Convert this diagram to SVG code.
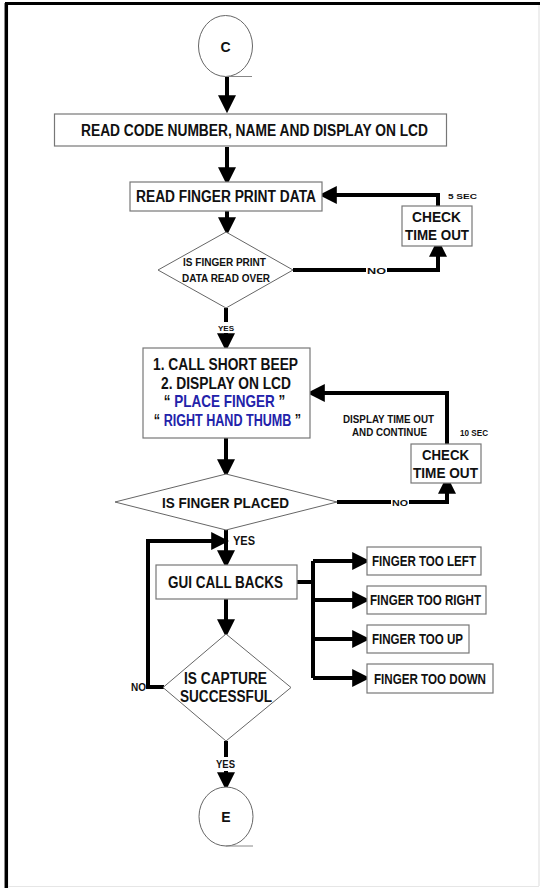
<svg xmlns="http://www.w3.org/2000/svg" width="541" height="888" viewBox="0 0 541 888">
<style>
.box{fill:#fff;stroke:#777;stroke-width:1.2}
.shape{fill:#fff;stroke:#666;stroke-width:1}
.c{stroke:#000;stroke-width:4;fill:none}
.t{font-family:"Liberation Sans",Arial,sans-serif;font-weight:bold;fill:#111;text-anchor:middle;dominant-baseline:central}
.blue{fill:#2222aa}
</style>
<defs>
<marker id="ah" markerWidth="4.5" markerHeight="4.5" refX="3.2" refY="2.25" orient="auto" markerUnits="strokeWidth">
<path d="M0,0 L4.5,2.25 L0,4.5 Z" fill="#000"/>
</marker>
</defs>
<rect x="0" y="0" width="541" height="888" fill="#fff"/>
<g id="frame">
<line x1="6.3" y1="3" x2="6.3" y2="888" stroke="#000" stroke-width="3.5"/>
<line x1="5" y1="3.5" x2="540" y2="3.5" stroke="#000" stroke-width="3.2"/>
<line x1="539" y1="5" x2="539" y2="886" stroke="#ddd" stroke-width="1"/>
<line x1="8" y1="886.5" x2="539" y2="886.5" stroke="#e6e6e6" stroke-width="1"/>
</g>
<g id="connectors">
<path class="c" d="M227,77 V108" marker-end="url(#ah)"/>
<path class="c" d="M227,147 V180" marker-end="url(#ah)"/>
<path class="c" d="M227,211 V230" marker-end="url(#ah)"/>
<path class="c" d="M293,270 H438 V244" marker-end="url(#ah)"/>
<path class="c" d="M438,206 V195 H324" marker-end="url(#ah)"/>
<path class="c" d="M226,308 V322"/>
<path class="c" d="M226,333 V346" marker-end="url(#ah)"/>
<path class="c" d="M337,502 H447 V481" marker-end="url(#ah)"/>
<path class="c" d="M447,444 V393 H312" marker-end="url(#ah)"/>
<path class="c" d="M226,438 V472" marker-end="url(#ah)"/>
<path class="c" d="M226,530 V563" marker-end="url(#ah)"/>
<path class="c" d="M164,687 H148 V541 H224" marker-end="url(#ah)"/>
<path class="c" d="M226,599 V632" marker-end="url(#ah)"/>
<path class="c" d="M297,582 H313"/>
<path class="c" d="M313,561 V678"/>
<path class="c" d="M313,561 H365" marker-end="url(#ah)"/>
<path class="c" d="M313,600 H365" marker-end="url(#ah)"/>
<path class="c" d="M313,639 H365" marker-end="url(#ah)"/>
<path class="c" d="M313,678 H365" marker-end="url(#ah)"/>
<path class="c" d="M226,741 V757"/>
<path class="c" d="M226,771 V785" marker-end="url(#ah)"/>
<rect x="366" y="264" width="21" height="12" fill="#fff"/>
<text class="t" x="376.5" y="270.5" font-size="9.5" textLength="19" lengthAdjust="spacingAndGlyphs">NO</text>
<rect x="391" y="496" width="18" height="12" fill="#fff"/>
<text class="t" x="400" y="502.5" font-size="9.5" textLength="16" lengthAdjust="spacingAndGlyphs">NO</text>
<text class="t" x="138.5" y="687.5" font-size="10" textLength="15" lengthAdjust="spacingAndGlyphs">NO</text>
<text class="t" x="226" y="328" font-size="7" textLength="16" lengthAdjust="spacingAndGlyphs">YES</text>
<text class="t" x="244" y="541" font-size="12.5" textLength="22" lengthAdjust="spacingAndGlyphs">YES</text>
<text class="t" x="225.5" y="764" font-size="10" textLength="19" lengthAdjust="spacingAndGlyphs">YES</text>
<text class="t" x="462.5" y="196" font-size="8" textLength="29" lengthAdjust="spacingAndGlyphs">5 SEC</text>
<text class="t" x="474" y="432" font-size="9.5" textLength="28" lengthAdjust="spacingAndGlyphs">10 SEC</text>
<text class="t" x="388.5" y="419" font-size="10" textLength="91" lengthAdjust="spacingAndGlyphs">DISPLAY TIME OUT</text>
<text class="t" x="389.5" y="432" font-size="10" textLength="75" lengthAdjust="spacingAndGlyphs">AND CONTINUE</text>
</g>
<g id="start">
<ellipse class="shape" cx="225.5" cy="46" rx="27" ry="30.5"/>
<line x1="226" y1="76.5" x2="252" y2="76.5" stroke="#888" stroke-width="1"/>
<text class="t" x="225.5" y="46.5" font-size="14">C</text>
</g>
<g id="read-code">
<rect class="box" x="54.5" y="114" width="392" height="32"/>
<text class="t" x="254.5" y="130.5" font-size="16" textLength="347" lengthAdjust="spacingAndGlyphs">READ CODE NUMBER, NAME AND DISPLAY ON LCD</text>
</g>
<g id="read-fp">
<rect class="box" x="130" y="182" width="192" height="29"/>
<text class="t" x="226" y="196.5" font-size="16" textLength="180" lengthAdjust="spacingAndGlyphs">READ FINGER PRINT DATA</text>
</g>
<g id="check1">
<rect class="box" x="402" y="206" width="70" height="40"/>
<text class="t" x="436.5" y="216.5" font-size="15.5" textLength="49" lengthAdjust="spacingAndGlyphs">CHECK</text>
<text class="t" x="437" y="234.5" font-size="15.5" textLength="64" lengthAdjust="spacingAndGlyphs">TIME OUT</text>
</g>
<g id="dec-read">
<polygon class="shape" points="226,232 293,270 226,308 158,270"/>
<text class="t" x="224.5" y="262" font-size="10" textLength="83" lengthAdjust="spacingAndGlyphs">IS FINGER PRINT</text>
<text class="t" x="226" y="278" font-size="10" textLength="88" lengthAdjust="spacingAndGlyphs">DATA READ OVER</text>
</g>
<g id="beep">
<rect class="box" x="143" y="348" width="167" height="90"/>
<text class="t" x="225.5" y="364" font-size="16" textLength="145" lengthAdjust="spacingAndGlyphs">1. CALL SHORT BEEP</text>
<text class="t" x="226" y="383" font-size="16" textLength="130" lengthAdjust="spacingAndGlyphs">2. DISPLAY ON LCD</text>
<text class="t" transform="translate(224.5,401.5) scale(0.843,1)" x="0" y="0" font-size="16">“ <tspan class="blue">PLACE FINGER</tspan> ”</text>
<text class="t" transform="translate(227.5,420) scale(0.786,1)" x="0" y="0" font-size="16">“ <tspan class="blue">RIGHT HAND THUMB</tspan> ”</text>
</g>
<g id="check2">
<rect class="box" x="411" y="444" width="70" height="39"/>
<text class="t" x="445.5" y="454.5" font-size="15.5" textLength="47" lengthAdjust="spacingAndGlyphs">CHECK</text>
<text class="t" x="445.5" y="472" font-size="15.5" textLength="65" lengthAdjust="spacingAndGlyphs">TIME OUT</text>
</g>
<g id="dec-placed">
<polygon class="shape" points="226,474 337,502 226,530 115,502"/>
<text class="t" x="225.5" y="502.5" font-size="15.5" textLength="127" lengthAdjust="spacingAndGlyphs">IS FINGER PLACED</text>
</g>
<g id="gui">
<rect class="box" x="156" y="565" width="141" height="34"/>
<text class="t" x="225.5" y="582" font-size="16" textLength="115" lengthAdjust="spacingAndGlyphs">GUI CALL BACKS</text>
</g>
<g id="f-left">
<rect class="box" x="367" y="547" width="114" height="28"/>
<text class="t" x="424" y="561" font-size="14" textLength="104" lengthAdjust="spacingAndGlyphs">FINGER TOO LEFT</text>
</g>
<g id="f-right">
<rect class="box" x="367" y="586" width="119" height="28"/>
<text class="t" x="425.5" y="600" font-size="14" textLength="111" lengthAdjust="spacingAndGlyphs">FINGER TOO RIGHT</text>
</g>
<g id="f-up">
<rect class="box" x="367" y="625" width="102" height="28"/>
<text class="t" x="417.5" y="639" font-size="14" textLength="91" lengthAdjust="spacingAndGlyphs">FINGER TOO UP</text>
</g>
<g id="f-down">
<rect class="box" x="367" y="664" width="126" height="29"/>
<text class="t" x="430" y="678.5" font-size="14" textLength="112" lengthAdjust="spacingAndGlyphs">FINGER TOO DOWN</text>
</g>
<g id="dec-capture">
<polygon class="shape" points="226,634 291,687.5 226,741 163,687.5"/>
<text class="t" x="225.5" y="678" font-size="16" textLength="83" lengthAdjust="spacingAndGlyphs">IS CAPTURE</text>
<text class="t" x="226" y="696.5" font-size="16" textLength="92" lengthAdjust="spacingAndGlyphs">SUCCESSFUL</text>
</g>
<g id="end">
<ellipse class="shape" cx="226" cy="816.5" rx="27" ry="29.5"/>
<line x1="226" y1="846" x2="253" y2="846" stroke="#888" stroke-width="1"/>
<text class="t" x="226" y="817" font-size="14">E</text>
</g>
</svg>
